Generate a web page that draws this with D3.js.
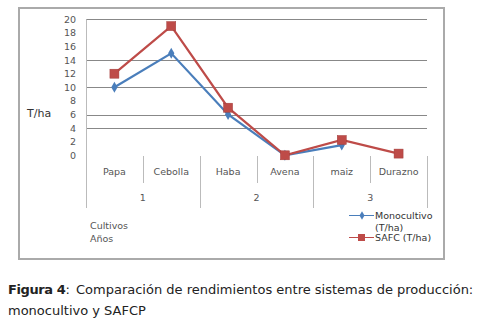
<!DOCTYPE html>
<html><head><meta charset="utf-8">
<script src="https://cdn.jsdelivr.net/npm/d3@7"></script>
<style>body{margin:0;background:#fff}svg{display:block}</style>
</head><body>
<svg id="c" width="477" height="324"></svg>
<script>
const categories = ["Papa","Cebolla","Haba","Avena","maiz","Durazno"];
const groups = ["1","2","3"];
const monocultivo = [10,15,6,0,1.5,null];
const safc = [12,19,7,0,2.25,0.25];
const yTicks = [0,2,4,6,8,10,12,14,16,18,20];
const gridValues = [4,6,10,14,20];
const seriesNames = ["Monocultivo","(T/ha)","SAFC (T/ha)"];

const svg = d3.select("#c");
const x0 = 86, x1 = 427, yTop = 19.3, yZero = 155.3;
const x = d3.scaleBand().domain(categories).range([x0,x1]);
const y = d3.scaleLinear().domain([0,20]).range([yZero,yTop]);
const font = "DejaVu Sans";
const tc = "#555";
const fs = 9.5;

// outer frame
svg.append("rect").attr("x",19).attr("y",8).attr("width",425).attr("height",251)
  .attr("fill","none").attr("stroke","#aaa").attr("stroke-width",2);

// gridlines
svg.selectAll("line.g").data(gridValues).join("line")
  .attr("x1",x0).attr("x2",x1).attr("y1",d=>Math.round(y(d))+0.5).attr("y2",d=>Math.round(y(d))+0.5)
  .attr("stroke","#888").attr("stroke-width",1);

// left axis line
svg.append("line").attr("x1",x0+0.5).attr("x2",x0+0.5).attr("y1",yTop).attr("y2",208)
  .attr("stroke","#bbb");

// y tick labels
svg.selectAll("text.yt").data(yTicks).join("text")
  .attr("x",76).attr("y",d=>y(d)+3.5).attr("text-anchor","end")
  .attr("font-family",font).attr("font-size",fs).attr("fill",tc).text(d=>d);

svg.append("text").attr("x",27).attr("y",117).attr("font-family",font).attr("font-size",11)
  .attr("fill","#333").text("T/ha");

// category separators
const bw = x.bandwidth();
categories.forEach((c,i)=>{
  const xx = Math.round(x(c)+bw)+0.5;
  const full = (i%2===1);
  svg.append("line").attr("x1",xx).attr("x2",xx).attr("y1",156).attr("y2",full?208:183)
    .attr("stroke","#bbb");
});
svg.selectAll("text.cat").data(categories).join("text")
  .attr("x",d=>x(d)+bw/2).attr("y",174.5).attr("text-anchor","middle")
  .attr("font-family",font).attr("font-size",fs).attr("fill",tc).text(d=>d);
svg.selectAll("text.grp").data(groups).join("text")
  .attr("x",(d,i)=>x(categories[i*2])+bw).attr("y",200.5).attr("text-anchor","middle")
  .attr("font-family",font).attr("font-size",fs).attr("fill",tc).text(d=>d);

svg.append("text").attr("x",90).attr("y",228.5).attr("font-family",font).attr("font-size",fs).attr("fill",tc).text("Cultivos");
svg.append("text").attr("x",90).attr("y",241.5).attr("font-family",font).attr("font-size",fs).attr("fill",tc).text("Años");

// lines
const line = d3.line().defined(d=>d.v!==null).x(d=>x(d.c)+bw/2).y(d=>y(d.v));
const md = monocultivo.map((v,i)=>({c:categories[i],v}));
const sd = safc.map((v,i)=>({c:categories[i],v}));
const blue = "#4a7ebb", red = "#be4b48";

svg.append("path").datum(md).attr("d",line).attr("fill","none").attr("stroke",blue).attr("stroke-width",2.2);
svg.selectAll("path.dm").data(md.filter(d=>d.v!==null)).join("path")
  .attr("d",d3.symbol(d3.symbolDiamond,34)())
  .attr("transform",d=>`translate(${x(d.c)+bw/2},${y(d.v)})`).attr("fill",blue);

svg.append("path").datum(sd).attr("d",line).attr("fill","none").attr("stroke",red).attr("stroke-width",2.2);
svg.selectAll("rect.sq").data(sd).join("rect")
  .attr("x",d=>x(d.c)+bw/2-4.5).attr("y",d=>y(d.v)-4.5).attr("width",9).attr("height",9)
  .attr("fill",red).attr("stroke","#a33c3a").attr("stroke-width",0.5);

// legend
svg.append("line").attr("x1",349).attr("x2",374).attr("y1",215.5).attr("y2",215.5).attr("stroke",blue).attr("stroke-width",1);
svg.append("path").attr("d",d3.symbol(d3.symbolDiamond,22)()).attr("transform","translate(362,215.5)").attr("fill",blue);
svg.append("line").attr("x1",349).attr("x2",374).attr("y1",237.5).attr("y2",237.5).attr("stroke",red).attr("stroke-width",1);
svg.append("rect").attr("x",358).attr("y",234).attr("width",7).attr("height",7).attr("fill",red);
svg.append("text").attr("x",375).attr("y",219).attr("font-family",font).attr("font-size",fs).attr("fill","#333").text(seriesNames[0]);
svg.append("text").attr("x",375).attr("y",231).attr("font-family",font).attr("font-size",fs).attr("fill","#333").text(seriesNames[1]);
svg.append("text").attr("x",375).attr("y",241).attr("font-family",font).attr("font-size",fs).attr("fill","#333").text(seriesNames[2]);

// caption
const cap = svg.append("text").attr("y",294).attr("font-family",font).attr("font-size",13).attr("fill","#222");
cap.append("tspan").attr("x",8).attr("font-weight","bold").attr("letter-spacing",-0.4).text("Figura 4");
cap.append("tspan").text(":");
cap.append("tspan").attr("x",76).text("Comparación de rendimientos entre sistemas de producción:");
svg.append("text").attr("x",8).attr("y",315).attr("font-family",font).attr("font-size",13).attr("fill","#222").text("monocultivo y SAFCP");
</script>
</body></html>
